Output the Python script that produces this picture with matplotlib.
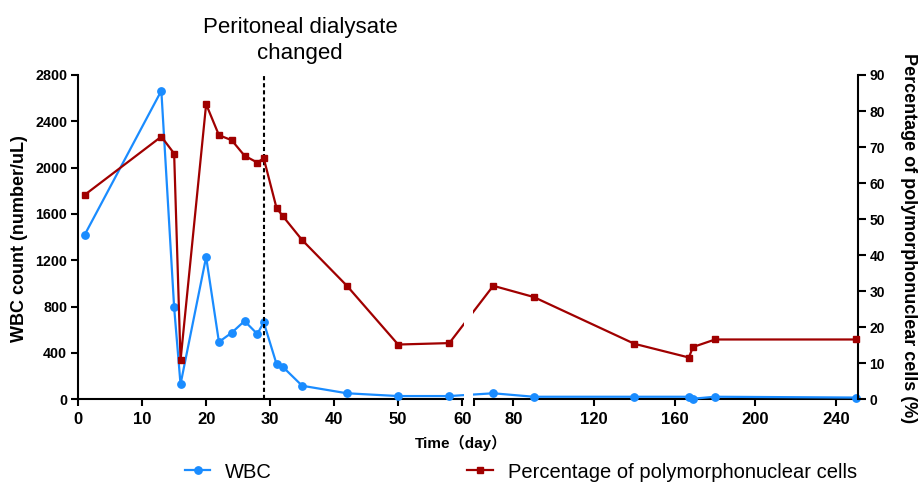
import numpy as np
import matplotlib
matplotlib.use('Agg')
import matplotlib.pyplot as plt
from matplotlib.patches import Rectangle
from matplotlib.transforms import blended_transform_factory

plt.rcParams['font.family'] = ['Liberation Sans', 'Noto Sans CJK SC', 'DejaVu Sans']

# ---------------- data ----------------
days_wbc = [1, 13, 15, 16, 20, 22, 24, 26, 28, 29, 31, 32, 35, 42, 50, 58, 70, 90, 140, 167, 169, 180, 250]
wbc = [1418, 2664, 794, 130, 1229, 495, 575, 676, 564, 665, 305, 279, 117, 52, 28, 28, 52, 22, 22, 22, 5, 22, 15]

days_pmn = [1, 13, 15, 16, 20, 22, 24, 26, 28, 29, 31, 32, 35, 42, 50, 58, 70, 90, 140, 167, 169, 180, 250]
pmn = [56.7, 72.9, 68.2, 10.8, 81.9, 73.3, 71.9, 67.6, 65.7, 66.9, 53.1, 50.8, 44.2, 31.5, 15.2, 15.6, 31.5, 28.4, 15.4, 11.6, 14.5, 16.6, 16.6]

x_ticks = [0, 10, 20, 30, 40, 50, 60, 80, 120, 160, 200, 240]
y_left_ticks = [0, 400, 800, 1200, 1600, 2000, 2400, 2800]
y_right_ticks = [0, 10, 20, 30, 40, 50, 60, 70, 80, 90]
event_day = 29

BLUE = '#1a8cff'
RED = '#a00000'

# ---------------- broken x scale ----------------
BREAK_LO, BREAK_HI = 60.2, 60.5
PX_LEFT, PX_RIGHT, GAP_PX = 6.4, 2.017, 10.7
xs_knots = np.array([-1000.0, BREAK_LO, BREAK_HI, 10000.0])
fs_knots = np.array([-1000.0 * PX_LEFT,
                     BREAK_LO * PX_LEFT,
                     BREAK_LO * PX_LEFT + GAP_PX,
                     BREAK_LO * PX_LEFT + GAP_PX + (10000.0 - BREAK_HI) * PX_RIGHT])


def fwd(x):
    return np.interp(x, xs_knots, fs_knots)


def inv(y):
    return np.interp(y, fs_knots, xs_knots)


W, H = 919, 482
fig = plt.figure(figsize=(W / 100, H / 100), dpi=100)
ax = fig.add_axes([77.5 / W, 1 - 399.3 / H, (857.7 - 77.5) / W, (399.3 - 75) / H])
ax.set_xscale('function', functions=(fwd, inv))
ax.set_xlim(-0.1, 250.7)
ax.set_ylim(0, 2800)

ax2 = ax.twinx()
ax2.set_ylim(0, 90)

l1, = ax.plot(days_wbc, wbc, color=BLUE, lw=1.6, marker='o', ms=5.3, clip_on=False, zorder=3)
ax.axvline(event_day, color='black', lw=1.5, ls=(0, (2, 1.4)), zorder=4)
l2, = ax2.plot(days_pmn, pmn, color=RED, lw=1.6, marker='s', ms=5, clip_on=False, zorder=3)

# gap of the broken axis
gap = Rectangle((60.22, -0.015), 0.24, 1.05,
                transform=blended_transform_factory(ax2.transData, ax2.transAxes),
                facecolor='white', edgecolor='none', zorder=6, clip_on=False)
ax2.add_patch(gap)

# spines
for s in ['top', 'right']:
    ax.spines[s].set_visible(False)
for s in ['top', 'left', 'bottom']:
    ax2.spines[s].set_visible(False)
ax.spines['left'].set_linewidth(1.5)
ax.spines['bottom'].set_linewidth(1.5)
ax2.spines['right'].set_linewidth(1.5)

# ticks
ax.set_xticks(x_ticks + [BREAK_HI])
ax.set_xticklabels([str(t) for t in x_ticks] + [''])
ax.set_yticks(y_left_ticks)
ax.set_yticklabels([str(t) for t in y_left_ticks])
ax2.set_yticks(y_right_ticks)
ax2.set_yticklabels([str(t) for t in y_right_ticks])

ax.tick_params(axis='x', direction='out', length=5, width=1.5, labelsize=12, pad=4)
ax.tick_params(axis='y', direction='out', length=5, width=1.5, labelsize=10.3, pad=2.4)
ax2.tick_params(axis='y', direction='out', length=5.5, width=1.5, labelsize=10, pad=3)
for lab in ax.get_xticklabels() + ax.get_yticklabels() + ax2.get_yticklabels():
    lab.set_fontweight('bold')

# labels
fig.text(19.5 / W, 1 - 239 / H, 'WBC count (number/uL)', rotation=90, ha='center', va='center',
         fontsize=13, fontweight='bold')
fig.text(908 / W, 1 - 238 / H, 'Percentage of polymorphonuclear cells (%)', rotation=270,
         ha='center', va='center', fontsize=13, fontweight='bold')
fig.text(461 / W, 1 - 443 / H, 'Time（day）', ha='center', va='center', fontsize=11, fontweight='bold')
fig.text(300 / W, 1 - 33 / H, 'Peritoneal dialysate', ha='center', va='baseline', fontsize=16)
fig.text(300 / W, 1 - 59 / H, 'changed', ha='center', va='baseline', fontsize=16)

fig.legend(handles=[l1, l2], labels=['WBC', 'Percentage of polymorphonuclear cells'],
           loc='center left', bbox_to_anchor=(185 / W, 1 - 472 / H), ncol=2, frameon=False,
           fontsize=14.5, handlelength=1.25, handletextpad=0.75, columnspacing=9.7,
           borderaxespad=0, borderpad=0)

fig.savefig('out.png', dpi=100)
